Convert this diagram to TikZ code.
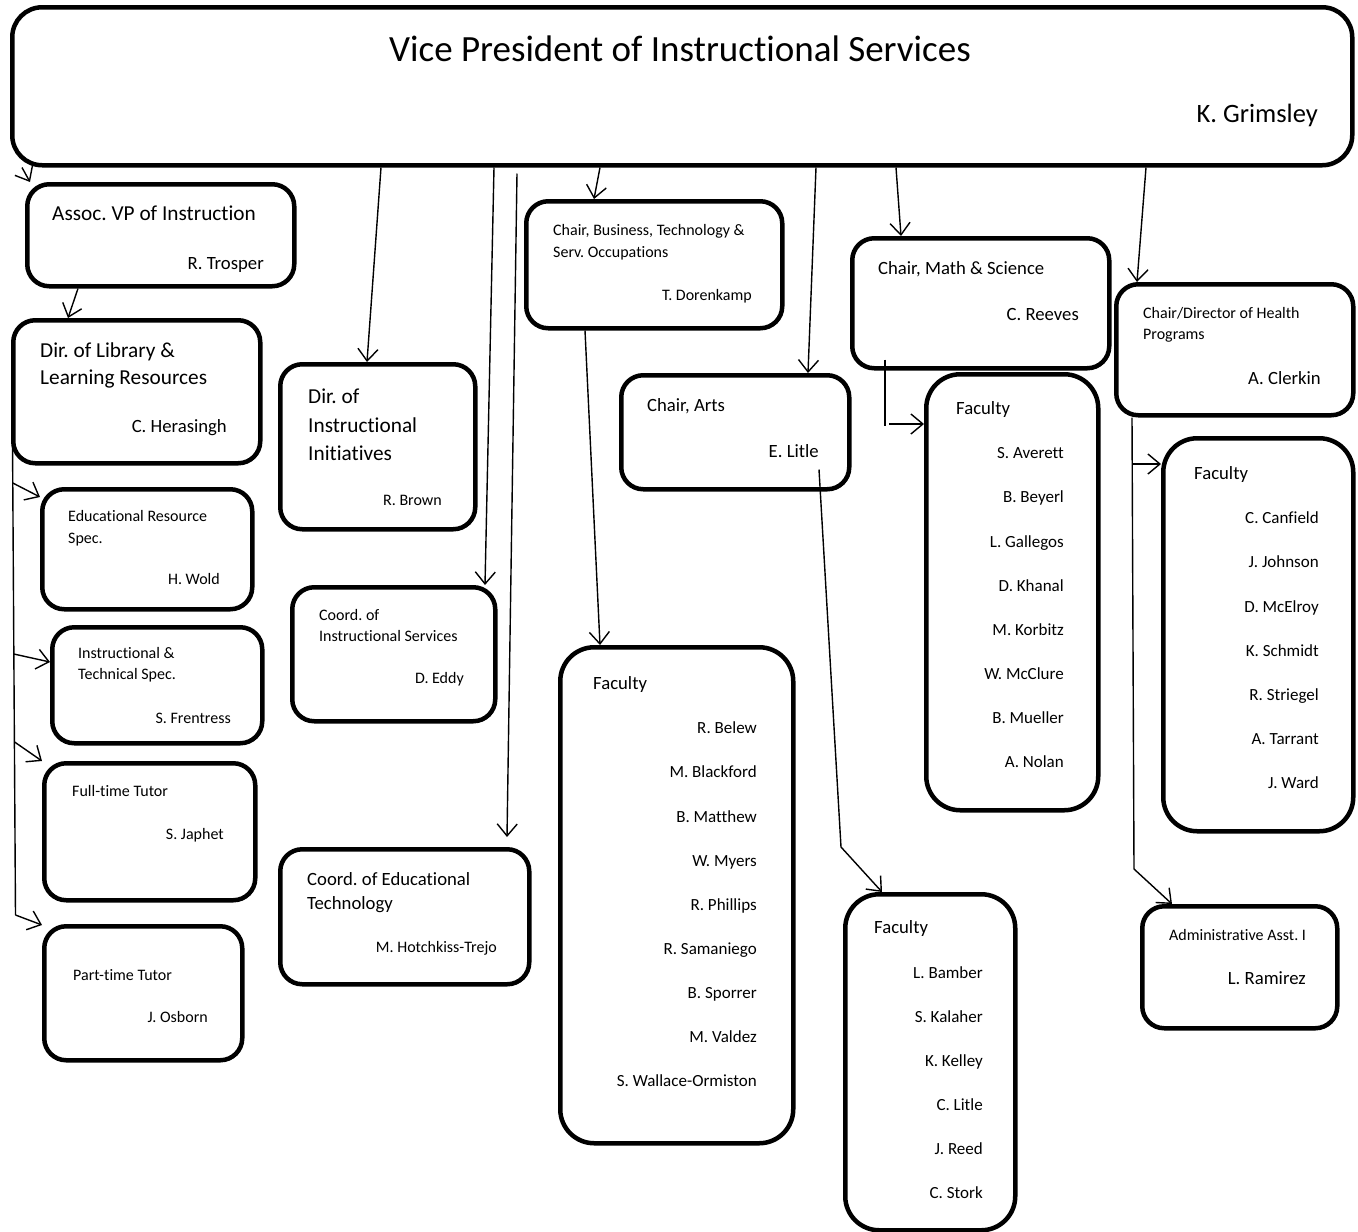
\documentclass[tikz,border=0pt]{standalone}
\usepackage{fontspec}
\setmainfont{Carlito}[Ligatures=NoCommon]
\usetikzlibrary{arrows.meta}
\frenchspacing

\tikzset{
  box/.style={draw=black, line width=4.5pt, rounded corners=22pt, inner sep=0pt, anchor=north west},
  facbox/.style={box, rounded corners=34pt},
  link/.style={-{Straight Barb[length=12pt,width=20pt]}, line width=1.4pt},
  wire/.style={line width=1.4pt},
  lbl/.style={inner sep=0pt, anchor=mid west},
  who/.style={inner sep=0pt, anchor=mid east},
  fhuge/.style={font=\fontsize{37}{44}\selectfont, yshift=-9pt},
  flarge/.style={font=\fontsize{26.5}{32}\selectfont, yshift=-7pt},
  fbig/.style={font=\fontsize{21.3}{26}\selectfont, yshift=-5.5pt},
  fmid/.style={font=\fontsize{18.7}{23}\selectfont, yshift=-5pt},
  fname/.style={font=\fontsize{17}{21}\selectfont, yshift=-4.5pt},
  fsmall/.style={font=\fontsize{16}{20}\selectfont, yshift=-4pt},
}

\begin{document}
\begin{tikzpicture}[x=1pt, y=-1pt]
    \useasboundingbox (0,0) rectangle (1358,1232);

    % Vice President
    \node[box, rounded corners=30pt, minimum width=1340pt, minimum height=158pt] (vp) at (10,5) {};
    \node[inner sep=0pt, anchor=mid, fhuge] (vpT) at (680,50) {Vice President of Instructional Services};
    \node[who, flarge] (vpN) at (1318,113) {K. Grimsley};

    % Assoc. VP
    \node[box, minimum width=267pt, minimum height=102pt] (avp) at (25,182) {};
    \node[lbl, fbig] (avpT) at (52,213) {Assoc. VP of Instruction};
    \node[who, fmid] (avpN) at (264,262) {R. Trosper};
    \draw[link] (vp.south -| 22,0) -- (avp.north -| 30,0);

    % Library
    \node[box, minimum width=247pt, minimum height=143pt] (lib) at (11,318) {};
    \node[lbl, fbig] (libA) at (40,350) {Dir. of Library \&};
    \node[lbl, fbig] (libB) at (40,377) {Learning Resources};
    \node[who, fmid] (libN) at (227,425) {C. Herasingh};
    \draw[link] (avp.south -| 78,0) -- (lib.north -| 68,0);

    % Library staff
    \node[box, minimum width=210pt, minimum height=120pt] (ers) at (40,487) {};
    \node[lbl, fsmall] (ersA) at (68,515) {Educational Resource};
    \node[lbl, fsmall] (ersB) at (68,537) {Spec.};
    \node[who, fsmall] (ersN) at (220,578) {H. Wold};

    \node[box, minimum width=210pt, minimum height=116pt] (its) at (50,625) {};
    \node[lbl, fsmall] (itsA) at (78,652) {Instructional \&};
    \node[lbl, fsmall] (itsB) at (78,673) {Technical Spec.};
    \node[who, fsmall] (itsN) at (231,717) {S. Frentress};

    \node[box, minimum width=211pt, minimum height=137pt] (ftt) at (42,761) {};
    \node[lbl, fsmall] (fttA) at (72,790) {Full-time Tutor};
    \node[who, fsmall] (fttN) at (224,833) {S. Japhet};

    \node[box, minimum width=198pt, minimum height=134pt] (ptt) at (42,924) {};
    \node[lbl, fsmall] (pttA) at (73,974) {Part-time Tutor};
    \node[who, fsmall] (pttN) at (208,1016) {J. Osborn};

    \coordinate (libtop) at (12.5,440);
    \coordinate (libbot) at (15.5,915);
    \coordinate (libb1) at (12.8,483);
    \coordinate (libb2) at (13.8,654);
    \coordinate (libb3) at (14.6,742);
    \draw[wire] (libtop) -- (libbot);
    \draw[link] (libb1) -- (ers.west |- 0,497) ;
    \draw[link] (libb2) -- (its.west |- 0,662);
    \draw[link] (libb3) -- (ftt.north west);
    \draw[link] (libbot) -- (ptt.west |- 0,925);

    % Instructional initiatives and coordinators
    \node[box, minimum width=195pt, minimum height=165pt] (dii) at (278,362) {};
    \node[lbl, fbig] (diiA) at (308,396) {Dir. of};
    \node[lbl, fbig] (diiB) at (308,425) {Instructional};
    \node[lbl, fbig] (diiC) at (308,453) {Initiatives};
    \node[who, fsmall] (diiN) at (442,499) {R. Brown};
    \draw[link] (vp.south -| 381,0) -- (dii.north -| 367,0);

    \node[box, minimum width=203pt, minimum height=134pt] (cis) at (290,585) {};
    \node[lbl, fsmall] (cisA) at (319,614) {Coord. of};
    \node[lbl, fsmall] (cisB) at (319,635) {Instructional Services};
    \node[who, fsmall] (cisN) at (464,677) {D. Eddy};
    \draw[link] (vp.south -| 494,0) -- (cis.north -| 485,0);

    \node[box, minimum width=249pt, minimum height=135pt] (cet) at (278,847) {};
    \node[lbl, fmid] (cetA) at (307,878) {Coord. of Educational};
    \node[lbl, fmid] (cetB) at (307,902) {Technology};
    \node[who, fsmall] (cetN) at (497,946) {M. Hotchkiss-Trejo};
    \draw[link] ([yshift=-6pt]vp.south -| 517,0) -- ([yshift=10pt]cet.north -| 507,0);

    % Business, Technology & Serv. Occupations
    \node[box, minimum width=256pt, minimum height=127pt] (cbt) at (524,199) {};
    \node[lbl, fsmall] (cbtA) at (553,229) {Chair, Business, Technology \&};
    \node[lbl, fsmall] (cbtB) at (553,251) {Serv. Occupations};
    \node[who, fsmall] (cbtN) at (752,294) {T. Dorenkamp};
    \draw[link] (vp.south -| 600,0) -- (cbt.north -| 594,0);

    \node[facbox, minimum width=233pt, minimum height=496pt] (fbt) at (558,645) {};
    \node[lbl, fmid] (fbtT) at (593,682) {Faculty};
    \foreach \person [count=\k from 0] in {R. Belew, M. Blackford, B. Matthew, W. Myers,
        R. Phillips, R. Samaniego, B. Sporrer, M. Valdez, S. Wallace-Ormiston}
      \node[who, fname] (fbt\k) at (757,727+44.1*\k) {\person};
    \draw[link] (cbt.south -| 585,0) -- (fbt.north -| 600,0);

    % Arts
    \node[box, minimum width=228pt, minimum height=114pt] (car) at (619,373) {};
    \node[lbl, fmid] (carA) at (647,404) {Chair, Arts};
    \node[who, fmid] (carN) at (819,450) {E. Litle};
    \draw[link] (vp.south -| 816,0) -- (car.north -| 808,0);

    \node[facbox, minimum width=170pt, minimum height=336pt] (far) at (843,892) {};
    \node[lbl, fmid] (farT) at (874,926) {Faculty};
    \foreach \person [count=\k from 0] in {L. Bamber, S. Kalaher, K. Kelley, C. Litle, J. Reed, C. Stork}
      \node[who, fname] (far\k) at (983,972+44*\k) {\person};
    \coordinate (arbend) at (841,847);
    \draw[link] (car.south -| 819,0) ++(0,-22) -- (arbend) -- (far.north -| 882,0);

    % Math & Science
    \node[box, minimum width=257pt, minimum height=130pt] (cms) at (850,236) {};
    \node[lbl, fmid] (cmsA) at (878,267) {Chair, Math \& Science};
    \node[who, fmid] (cmsN) at (1079,313) {C. Reeves};
    \draw[link] (vp.south -| 896,0) -- (cms.north -| 901,0);

    \node[facbox, minimum width=172pt, minimum height=436pt] (fms) at (924,372) {};
    \node[lbl, fmid] (fmsT) at (956,407) {Faculty};
    \foreach \person [count=\k from 0] in {S. Averett, B. Beyerl, L. Gallegos, D. Khanal,
        M. Korbitz, W. McClure, B. Mueller, A. Nolan}
      \node[who, fname] (fms\k) at (1064,452+44.1*\k) {\person};
    \draw[wire] (cms.south -| 885,0) ++(0,-11) -- (885,426);
    \draw[link] (889,424) -- (fms.west |- 0,424);

    % Health Programs
    \node[box, minimum width=237pt, minimum height=131pt] (chp) at (1114,282) {};
    \node[lbl, fsmall] (chpA) at (1143,312) {Chair/Director of Health};
    \node[lbl, fsmall] (chpB) at (1143,333) {Programs};
    \node[who, fmid] (chpN) at (1321,377) {A. Clerkin};
    \draw[link] (vp.south -| 1146,0) -- (chp.north -| 1137,0);

    \node[facbox, minimum width=190pt, minimum height=393pt] (fhp) at (1161,436) {};
    \node[lbl, fmid] (fhpT) at (1194,472) {Faculty};
    \foreach \person [count=\k from 0] in {C. Canfield, J. Johnson, D. McElroy, K. Schmidt,
        R. Striegel, A. Tarrant, J. Ward}
      \node[who, fname] (fhp\k) at (1319,517+44.1*\k) {\person};

    \node[box, minimum width=195pt, minimum height=122pt] (adm) at (1140,904) {};
    \node[lbl, fsmall] (admA) at (1169,934) {Administrative Asst. I};
    \node[who, fmid] (admN) at (1306,977) {L. Ramirez};

    \coordinate (hpbend) at (1134,869);
    \draw[link] (chp.south -| 1132,0) -- (hpbend) -- (adm.north -| 1172,0);
    \draw[link] (1132,464) -- (fhp.west |- 0,464);

\end{tikzpicture}
\end{document}
